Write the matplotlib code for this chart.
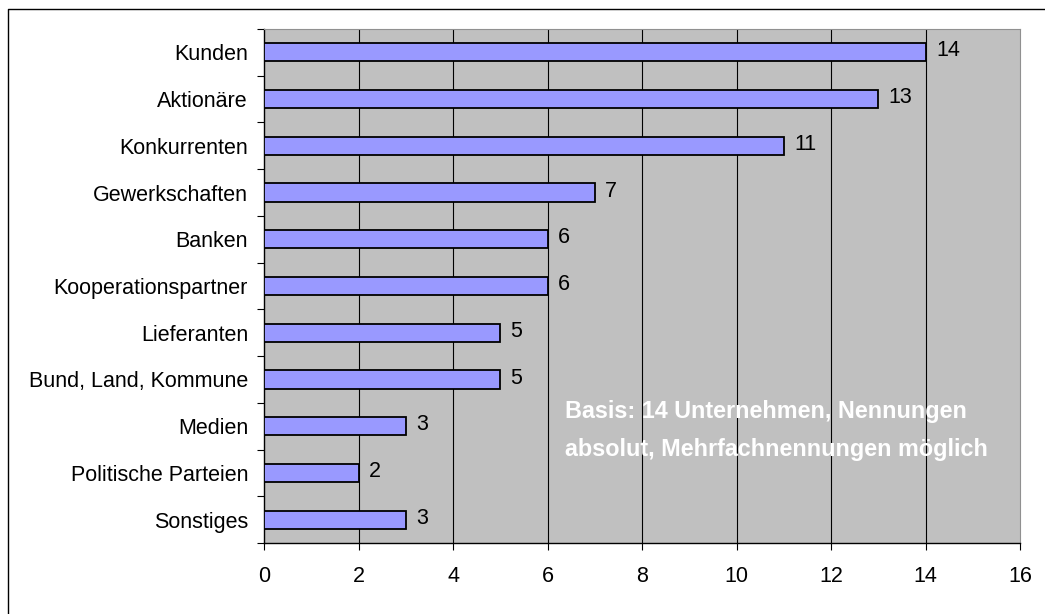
import matplotlib
matplotlib.use("Agg")
import matplotlib.pyplot as plt
from matplotlib.lines import Line2D
import numpy as np

plt.rcParams['font.family'] = ['Liberation Sans', 'DejaVu Sans']

categories = ["Kunden", "Aktionäre", "Konkurrenten", "Gewerkschaften", "Banken",
              "Kooperationspartner", "Lieferanten", "Bund, Land, Kommune", "Medien",
              "Politische Parteien", "Sonstiges"]
values = [14, 13, 11, 7, 6, 6, 5, 5, 3, 2, 3]
x_ticks = [0, 2, 4, 6, 8, 10, 12, 14, 16]
note_lines = ["Basis: 14 Unternehmen, Nennungen",
              "absolut, Mehrfachnennungen möglich"]

W, H = 1045, 614
fig = plt.figure(figsize=(W / 100, H / 100), dpi=100)
fig.patch.set_facecolor("white")

# outer frame (left and top edges visible)
fig.add_artist(Line2D([8 / W, 8 / W, 1.0], [0.0, 1 - 9 / H, 1 - 9 / H],
                      transform=fig.transFigure, color="black", lw=1.0))

ax = fig.add_axes([264 / W, 1 - 543 / H, (1020 - 264) / W, (543 - 29) / H])
ax.set_facecolor("#c0c0c0")

n = len(categories)
ypos = np.arange(n)
ax.set_xlim(0, 16)
ax.set_ylim(n - 0.5, -0.5)

for x in x_ticks[1:-1]:
    ax.axvline(x, color="black", lw=0.8, zorder=1)

ax.barh(ypos, values, height=0.39, color="#9999ff", edgecolor="black",
        linewidth=1.3, zorder=3)

FS = 15.5
for y, v in zip(ypos, values):
    ax.text(v + 0.22, y - 0.03, str(v), va="center", ha="left", fontsize=FS,
            color="black", zorder=4)

ax.set_yticks(ypos)
ax.set_yticklabels(categories, fontsize=FS)
ax.tick_params(axis="y", which="major", length=0, pad=11.5)
ax.set_yticks(np.arange(n + 1) - 0.5, minor=True)
ax.tick_params(axis="y", which="minor", length=5, width=0.8, direction="out",
               color="black")

ax.set_xticks(x_ticks)
ax.set_xticklabels([str(t) for t in x_ticks], fontsize=FS)
ax.tick_params(axis="x", which="major", length=5, width=0.8, direction="out",
               pad=11.5, color="black")

ax.spines["left"].set_color("black")
ax.spines["bottom"].set_color("black")
ax.spines["left"].set_linewidth(1.0)
ax.spines["bottom"].set_linewidth(1.0)
ax.spines["top"].set_color("#909090")
ax.spines["right"].set_color("#909090")

ax.text(6.37, 7.69, note_lines[0], color="white", fontsize=16.8, fontweight="bold",
        va="center", ha="left", zorder=5)
ax.text(6.37, 8.5, note_lines[1], color="white", fontsize=16.8, fontweight="bold",
        va="center", ha="left", zorder=5)

fig.savefig("out.png", dpi=100)
